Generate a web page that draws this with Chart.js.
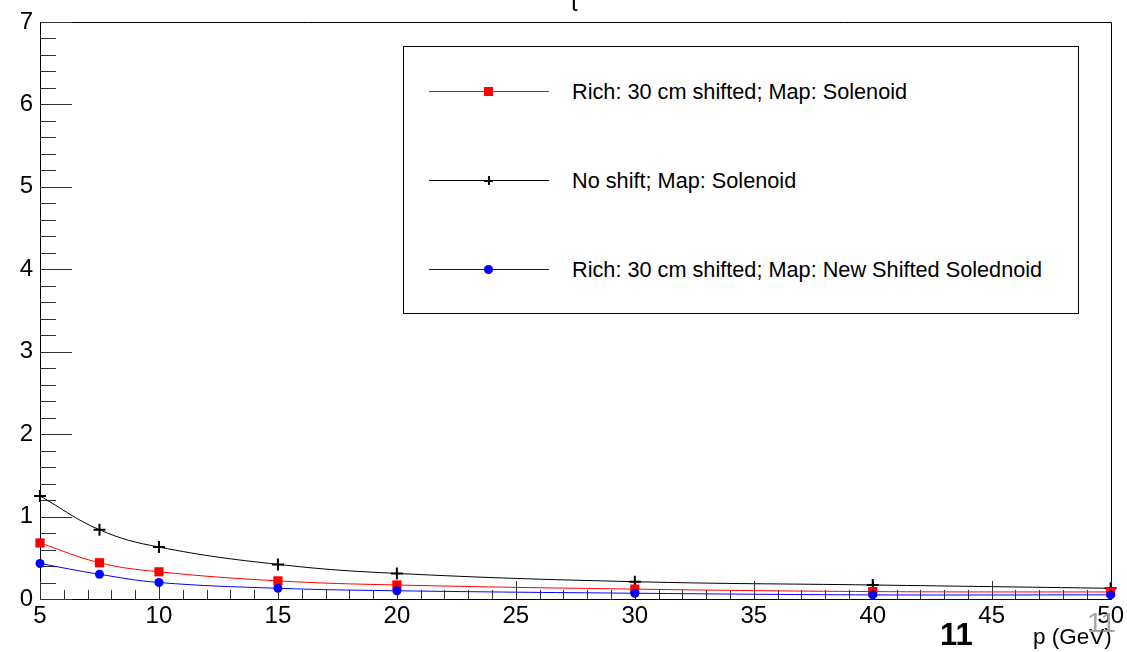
<!DOCTYPE html>
<html>
<head>
	<meta charset="utf-8">
	<title>p (GeV)</title>
	<script src="https://cdn.jsdelivr.net/npm/chart.js@4.4.0/dist/chart.umd.min.js"></script>
	<style>
		html, body { margin: 0; padding: 0; background: #fff; }
		body {
			width: 1127px; height: 652px; position: relative; overflow: hidden;
			font-family: "Liberation Sans", Arial, sans-serif;
		}
		#wrap { position: absolute; left: 0; top: 0; width: 1127px; height: 652px; }
		.txt { position: absolute; white-space: nowrap; line-height: 1; }
		.legend {
			position: absolute; left: 403px; top: 46px; width: 674px; height: 266px;
			border: 1px solid #000; background: #fff;
		}
		.entry { position: absolute; left: 0; width: 674px; height: 0; }
		.entry .line { position: absolute; left: 25px; width: 120px; top: 0; height: 1px; }
		.entry .label { position: absolute; left: 168px; top: -10px; font-size: 21.7px; line-height: 1; }
		.mk { position: absolute; }
	</style>
</head>
<body>
	<div id="wrap"><canvas id="chart" width="1127" height="652"></canvas></div>

	<div class="txt" style="left:571px; top:-9px; font-size:24px;">t</div>

	<div class="legend">
		<div class="entry" style="top:44px;">
			<div class="line" style="background:#ff0000;"></div>
			<div class="mk" style="left:80px; top:-4px; width:9px; height:9px; background:#ff0000;"></div>
			<div class="label">Rich: 30 cm shifted; Map: Solenoid</div>
		</div>
		<div class="entry" style="top:133px;">
			<div class="line" style="background:#000;"></div>
			<div class="mk" style="left:80px; top:0px; width:9px; height:2px; background:#000;"></div>
			<div class="mk" style="left:84px; top:-4px; width:2px; height:9px; background:#000;"></div>
			<div class="label">No shift; Map: Solenoid</div>
		</div>
		<div class="entry" style="top:222px;">
			<div class="line" style="background:#0000ff;"></div>
			<div class="mk" style="left:80px; top:-4px; width:9px; height:9px; border-radius:50%; background:#0000ff;"></div>
			<div class="label">Rich: 30 cm shifted; Map: New Shifted Solednoid</div>
		</div>
	</div>

	<div class="txt" style="left:940px; top:619px; font-size:31px; font-weight:bold;">11</div>
	<div class="txt" style="left:1033px; top:626px; font-size:22.5px;">p (GeV)</div>
	<div class="txt" style="left:1087px; top:609px; font-size:28px; color:#a6a6a6;">11</div>

<script>
	// momentum points and resolution values
	const pValues = [5, 7.5, 10, 15, 20, 30, 40, 50];
	const shiftedSolenoid = [0.68, 0.44, 0.33, 0.22, 0.17, 0.12, 0.09, 0.085];
	const noShiftSolenoid = [1.25, 0.84, 0.63, 0.42, 0.31, 0.21, 0.17, 0.13];
	const shiftedNewMap = [0.43, 0.30, 0.20, 0.13, 0.10, 0.07, 0.05, 0.05];
	const xTicks = [5, 10, 15, 20, 25, 30, 35, 40, 45, 50];
	const yTicks = [0, 1, 2, 3, 4, 5, 6, 7];

	const pts = ys => pValues.map((x, i) => ({x: x, y: ys[i]}));

	// ROOT style frame with ticks drawn inward
	const rootFrame = {
		id: 'rootFrame',
		beforeDatasetsDraw(chart) {
			const ctx = chart.ctx, a = chart.chartArea;
			const xs = chart.scales.x, ys = chart.scales.y;
			ctx.save();
			ctx.strokeStyle = '#000';
			ctx.lineWidth = 1;
			ctx.beginPath();
			ctx.rect(Math.round(a.left) + 0.5, Math.round(a.top) + 0.5, Math.round(a.right - a.left), Math.round(a.bottom - a.top));
			ctx.stroke();
			ctx.strokeStyle = '#333';
			ctx.beginPath();
			for (let v = 5; v <= 50.001; v += 1) {
				const px = Math.round(xs.getPixelForValue(v)) + 0.5;
				const len = (Math.abs(v % 5) < 0.001) ? 18 : 9;
				ctx.moveTo(px, a.bottom);
				ctx.lineTo(px, a.bottom - len);
			}
			for (let v = 0; v <= 7.001; v += 0.2) {
				const py = Math.round(ys.getPixelForValue(v)) + 0.5;
				const major = Math.abs(v - Math.round(v)) < 0.001;
				ctx.moveTo(a.left, py);
				ctx.lineTo(a.left + (major ? 32 : 16), py);
			}
			ctx.stroke();
			ctx.restore();
		}
	};

	const ctx = document.getElementById('chart');
	new Chart(ctx, {
		type: 'line',
		data: {
			datasets: [{
				label: 'Rich: 30 cm shifted; Map: New Shifted Solednoid',
				data: pts(shiftedNewMap),
				borderColor: '#0000ff',
				backgroundColor: '#0000ff',
				pointStyle: 'circle',
				pointRadius: 4.5,
				order: 1
			}, {
				label: 'Rich: 30 cm shifted; Map: Solenoid',
				data: pts(shiftedSolenoid),
				borderColor: '#ff0000',
				backgroundColor: '#ff0000',
				pointStyle: 'rect',
				pointRadius: 6.5,
				order: 2
			}, {
				label: 'No shift; Map: Solenoid',
				data: pts(noShiftSolenoid),
				borderColor: '#000',
				backgroundColor: '#000',
				pointStyle: 'cross',
				pointRadius: 6,
				pointBorderWidth: 2,
				order: 3
			}]
		},
		options: {
			responsive: false,
			animation: false,
			events: [],
			layout: { padding: { top: 22, right: 11, left: 0, bottom: 0 } },
			elements: {
				line: { borderWidth: 1, tension: 0.4, fill: false },
				point: { borderWidth: 0, hoverRadius: 0 }
			},
			datasets: { line: { clip: false } },
			plugins: { legend: { display: false }, tooltip: { enabled: false } },
			scales: {
				x: {
					type: 'linear',
					min: 5, max: 50,
					grid: { display: false, drawTicks: false },
					border: { display: false },
					afterBuildTicks: s => { s.ticks = xTicks.map(v => ({value: v})); },
					afterFit: s => { s.height = 53; },
					ticks: {
						color: '#000', padding: 3, maxRotation: 0, autoSkip: false,
						font: { family: '"Liberation Sans", Arial, sans-serif', size: 24 }
					}
				},
				y: {
					type: 'linear',
					min: 0, max: 7,
					grid: { display: false, drawTicks: false },
					border: { display: false },
					afterBuildTicks: s => { s.ticks = yTicks.map(v => ({value: v})); },
					afterFit: s => { s.width = 40; },
					ticks: {
						color: '#000', padding: 7,
						font: { family: '"Liberation Sans", Arial, sans-serif', size: 24 }
					}
				}
			}
		},
		plugins: [rootFrame]
	});
</script>
</body>
</html>
